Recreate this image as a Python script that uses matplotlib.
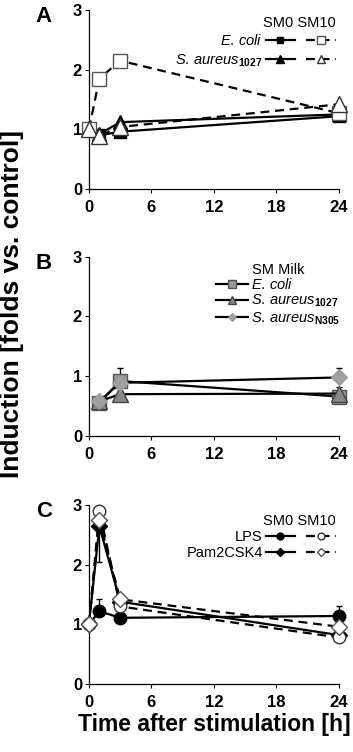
import numpy as np
import matplotlib
matplotlib.use("Agg")
import matplotlib.pyplot as plt
from matplotlib.legend_handler import HandlerTuple

plt.rcParams['font.family'] = ['Liberation Sans', 'DejaVu Sans']
plt.rcParams['mathtext.fontset'] = 'custom'
plt.rcParams['mathtext.rm'] = 'Liberation Sans'
plt.rcParams['mathtext.it'] = 'Liberation Sans:italic'
plt.rcParams['mathtext.bf'] = 'Liberation Sans:bold'

# --- data ---
hours_a = [0, 1, 3, 24]
ecoli_sm0 = [1.0, 0.90, 0.96, 1.22]
ecoli_sm10 = [1.0, 1.85, 2.15, 1.27]
saureus_sm0 = [1.0, 0.92, 1.12, 1.25]
saureus_sm10 = [1.0, 0.89, 1.04, 1.42]

hours_b = [1, 3, 24]
milk_ecoli = [0.56, 0.92, 0.66]
milk_ecoli_err = [0.0, 0.21, 0.0]
milk_s1027 = [0.58, 0.70, 0.71]
milk_s1027_err = [0.0, 0.0, 0.11]
milk_sn305 = [0.58, 0.89, 0.98]
milk_sn305_err = [0.0, 0.0, 0.16]

hours_c = [0, 1, 3, 24]
lps_sm0 = [1.0, 1.22, 1.11, 1.14]
lps_sm0_err = [0.0, 0.20, 0.0, 0.17]
lps_sm10 = [1.0, 2.90, 1.30, 0.78]
pam_sm0 = [1.0, 2.65, 1.38, 0.82]
pam_sm0_err_low = [0.0, 0.60, 0.0, 0.0]
pam_sm10 = [1.0, 2.75, 1.42, 0.96]

xticks = [0, 6, 12, 18, 24]
yticks = [0, 1, 2, 3]

lab_ecoli = r'$\mathit{E.\,coli}$'
lab_s1027 = r'$\mathit{S.\,aureus}_{\mathbf{1027}}$'
lab_sn305 = r'$\mathit{S.\,aureus}_{\mathbf{N305}}$'

fig = plt.figure(figsize=(3.53, 7.52), dpi=100)
ax_a = fig.add_axes([0.252, 0.7487, 0.708, 0.238])
ax_b = fig.add_axes([0.252, 0.4202, 0.708, 0.2384])
ax_c = fig.add_axes([0.252, 0.0904, 0.708, 0.238])

dash = (0, (4, 2.6))
lw = 1.6
ms = 9
legfs = 10.5


def style_axes(ax, letter):
    ax.set_xlim(0, 24)
    ax.set_ylim(0, 3)
    ax.set_xticks(xticks)
    ax.set_yticks(yticks)
    for s in ['top', 'right']:
        ax.spines[s].set_visible(False)
    for s in ['left', 'bottom']:
        ax.spines[s].set_linewidth(0.9)
    ax.tick_params(direction='out', length=3, width=0.8, labelsize=12, pad=2)
    ax.tick_params(axis='x', pad=5)
    for lab in ax.get_xticklabels() + ax.get_yticklabels():
        lab.set_fontweight('bold')
    ax.text(-0.18, 1.02, letter, transform=ax.transAxes, fontsize=16,
            fontweight='bold', ha='center', va='top')


def errbar(ax, x, y, low, high):
    x = np.array(x)
    y = np.array(y)
    low = np.array(low)
    high = np.array(high)
    keep = (low > 0) | (high > 0)
    ax.errorbar(x[keep], y[keep], yerr=[low[keep], high[keep]], fmt='none',
                ecolor='black', elinewidth=1.0, capsize=2.5, capthick=1.0,
                zorder=1, clip_on=False)


# ---------- A ----------
ax = ax_a
h1, = ax.plot(hours_a, ecoli_sm0, '-', color='black', lw=lw, marker='s', ms=ms - 1,
              mfc='black', mec='black', clip_on=False, zorder=3)
h3, = ax.plot(hours_a, saureus_sm0, '-', color='black', lw=lw, marker='^', ms=ms + 1,
              mfc='black', mec='black', clip_on=False, zorder=3)
h2, = ax.plot(hours_a, ecoli_sm10, ls=dash, color='black', lw=lw, marker='s', ms=ms + 1,
              mfc='white', mec='#555555', mew=1.0, clip_on=False, zorder=4)
h4, = ax.plot(hours_a, saureus_sm10, ls=dash, color='black', lw=lw, marker='^', ms=ms + 2,
              mfc='white', mec='#333333', mew=1.0, clip_on=False, zorder=4)
style_axes(ax, 'A')
ax.legend([(h1, h2), (h3, h4)], [lab_ecoli, lab_s1027],
          handler_map={tuple: HandlerTuple(ndivide=None, pad=0.7)},
          markerfirst=False, frameon=False, fontsize=legfs, title='SM0 SM10',
          title_fontsize=legfs, alignment='right', handlelength=4.8,
          handletextpad=0.2, labelspacing=0.25, markerscale=0.55,
          loc='upper right', bbox_to_anchor=(1.01, 1.0), borderaxespad=0)

# ---------- B ----------
ax = ax_b
errbar(ax, hours_b, milk_ecoli, [0] * 3, milk_ecoli_err)
errbar(ax, hours_b, milk_s1027, [0] * 3, milk_s1027_err)
errbar(ax, hours_b, milk_sn305, [0] * 3, milk_sn305_err)
ax.plot(hours_b, milk_ecoli, '-', color='black', lw=lw, marker='s', ms=ms + 1,
        mfc='#999999', mec='#555555', mew=1.0, clip_on=False, zorder=3,
        label=lab_ecoli)
ax.plot(hours_b, milk_s1027, '-', color='black', lw=lw, marker='^', ms=ms + 2,
        mfc='#888888', mec='#444444', mew=1.0, clip_on=False, zorder=3,
        label=lab_s1027)
ax.plot(hours_b, milk_sn305, '-', color='black', lw=lw, marker='D', ms=ms - 1,
        mfc='#a0a0a0', mec='#999999', mew=0.8, clip_on=False, zorder=4,
        label=lab_sn305)
style_axes(ax, 'B')
ax.legend(frameon=False, fontsize=legfs, title='SM Milk', title_fontsize=legfs,
          handlelength=2.2, handletextpad=0.2, labelspacing=0.05, markerscale=0.55,
          loc='upper right', bbox_to_anchor=(1.03, 1.0), borderaxespad=0)

# ---------- C ----------
ax = ax_c
errbar(ax, hours_c, lps_sm0, [0] * 4, lps_sm0_err)
errbar(ax, hours_c, pam_sm0, pam_sm0_err_low, [0] * 4)
k1, = ax.plot(hours_c, lps_sm0, '-', color='black', lw=lw, marker='o', ms=ms,
              mfc='black', mec='black', clip_on=False, zorder=3)
k3, = ax.plot(hours_c, pam_sm0, '-', color='black', lw=lw, marker='D', ms=ms - 1,
              mfc='black', mec='black', clip_on=False, zorder=3)
k2, = ax.plot(hours_c, lps_sm10, ls=dash, color='black', lw=lw, marker='o', ms=ms,
              mfc='white', mec='#333333', mew=1.0, clip_on=False, zorder=4)
k4, = ax.plot(hours_c, pam_sm10, ls=dash, color='black', lw=lw, marker='D', ms=ms - 1,
              mfc='white', mec='#555555', mew=1.0, clip_on=False, zorder=5)
style_axes(ax, 'C')
ax.legend([(k1, k2), (k3, k4)], ['LPS', 'Pam2CSK4'],
          handler_map={tuple: HandlerTuple(ndivide=None, pad=0.7)},
          markerfirst=False, frameon=False, fontsize=legfs, title='SM0 SM10',
          title_fontsize=legfs, alignment='right', handlelength=4.8,
          handletextpad=0.2, labelspacing=0.15, markerscale=0.55,
          loc='upper right', bbox_to_anchor=(1.01, 0.985), borderaxespad=0)

fig.text(12 / 353, 1 - 304 / 752, 'Induction [folds vs. control]', rotation=90,
         ha='center', va='center', fontsize=19, fontweight='bold')
fig.text(214 / 353, 1 - 724 / 752, 'Time after stimulation [h]',
         ha='center', va='center', fontsize=16.5, fontweight='bold')

fig.savefig('out.png', dpi=100)
